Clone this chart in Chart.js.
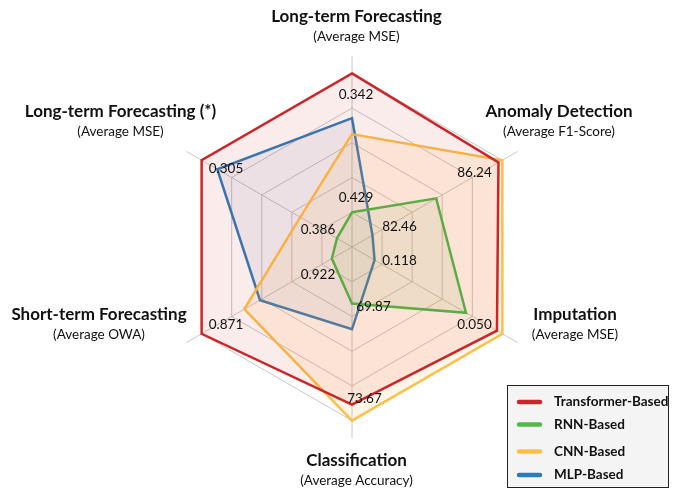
<!DOCTYPE html>
<html>
<head>
<meta charset="utf-8">
<script src="https://cdn.jsdelivr.net/npm/chart.js@4.4.1/dist/chart.umd.min.js"></script>
<style>
  html, body { margin: 0; padding: 0; background: #fff; }
  #wrap { width: 673px; height: 492px; position: relative; }
</style>
</head>
<body>
<div id="wrap"><canvas id="radarChart"></canvas></div>
<script>
// axis names and metrics, clockwise from the top
var categories = ["Long-term Forecasting", "Anomaly Detection", "Imputation", "Classification", "Short-term Forecasting", "Long-term Forecasting (*)"];
var metrics = ["(Average MSE)", "(Average F1-Score)", "(Average MSE)", "(Average Accuracy)", "(Average OWA)", "(Average MSE)"];

// normalised scores (0 = centre, 5 = outer ring)
var transformerValues = [5.0, 4.87, 4.82, 4.54, 5.0, 5.0];
var rnnValues = [1.0, 2.8, 3.79, 1.63, 0.67, 0.5];
var cnnValues = [3.25, 5.0, 5.0, 5.0, 3.58, 1.72];
var mlpValues = [3.71, 0.68, 0.75, 2.37, 3.06, 4.48];

// raw metric labels written on each axis
var innerTickLabels = ["0.429", "82.46", "0.118", "69.87", "0.922", "0.386"];
var outerTickLabels = ["0.342", "86.24", "0.050", "73.67", "0.871", "0.305"];

var seriesNames = ["Transformer-Based", "RNN-Based", "CNN-Based", "MLP-Based"];

var colors = ["#cc2529", "#52b848", "#fdbf47", "#2b7bba"];
var fills = ["rgba(214,39,40,0.09)", "rgba(120,170,60,0.10)", "rgba(253,180,60,0.12)", "rgba(60,90,170,0.08)"];

// text placement, offsets from the chart centre
var titleOffsets = [[4.5, -230], [207, -135], [223, 68], [4.5, 214], [-253, 68], [-231.5, -135]];
var innerOffsets = [[4, -49], [47.5, -20], [47.5, 14], [21.5, 60], [-34, 27.5], [-34, -17]];
var outerOffsets = [[4, -152.5], [122.5, -74.5], [122.5, 77.5], [12.5, 152], [-126, 77.5], [-126, -78]];

var FONT = "Lato, 'Open Sans', sans-serif";

var textPlugin = {
  id: "radarText",
  afterDatasetsDraw: function (chart) {
    var ctx = chart.ctx;
    var r = chart.scales.r;
    var cx = r.xCenter, cy = r.yCenter;
    ctx.save();
    ctx.textAlign = "center";
    ctx.textBaseline = "middle";
    ctx.fillStyle = "#111";
    for (var i = 0; i < categories.length; i++) {
      ctx.font = "bold 17px " + FONT;
      ctx.fillText(categories[i], cx + titleOffsets[i][0], cy + titleOffsets[i][1]);
      ctx.font = "13.5px " + FONT;
      ctx.fillText(metrics[i], cx + titleOffsets[i][0], cy + titleOffsets[i][1] + 20);
      ctx.font = "13.5px " + FONT;
      ctx.fillText(innerTickLabels[i], cx + innerOffsets[i][0], cy + innerOffsets[i][1]);
      ctx.fillText(outerTickLabels[i], cx + outerOffsets[i][0], cy + outerOffsets[i][1]);
    }
    ctx.restore();
  },
  afterDraw: function (chart) {
    var ctx = chart.ctx;
    var rows = [402, 424.5, 451.5, 475];
    ctx.save();
    ctx.fillStyle = "#f4f4f4";
    ctx.fillRect(507.5, 385.5, 161, 102);
    ctx.strokeStyle = "#222";
    ctx.lineWidth = 1;
    ctx.strokeRect(507.5, 385.5, 161, 102);
    ctx.lineCap = "round";
    ctx.textAlign = "left";
    ctx.textBaseline = "middle";
    ctx.font = "bold 13.5px " + FONT;
    for (var i = 0; i < seriesNames.length; i++) {
      ctx.strokeStyle = colors[i];
      ctx.lineWidth = 4.5;
      ctx.beginPath();
      ctx.moveTo(519, rows[i]);
      ctx.lineTo(540, rows[i]);
      ctx.stroke();
      ctx.fillStyle = "#111";
      ctx.fillText(seriesNames[i], 554, rows[i]);
    }
    ctx.restore();
  }
};

function makeSet(i, values) {
  return {
    label: seriesNames[i],
    data: values,
    borderColor: colors[i],
    backgroundColor: fills[i],
    borderWidth: 2.5,
    fill: true,
    pointRadius: 0,
    pointHoverRadius: 0,
    tension: 0
  };
}

var ctx = document.getElementById("radarChart").getContext("2d");
var radarChart = new Chart(ctx, {
  type: "radar",
  data: {
    labels: categories,
    datasets: [
      makeSet(0, transformerValues),
      makeSet(1, rnnValues),
      makeSet(2, cnnValues),
      makeSet(3, mlpValues)
    ]
  },
  options: {
    responsive: true,
    maintainAspectRatio: false,
    animation: false,
    layout: { padding: { top: 56, bottom: 54, left: 32, right: 0 } },
    plugins: {
      legend: { display: false },
      tooltip: { enabled: false }
    },
    scales: {
      r: {
        min: 0,
        max: 5.5,
        ticks: { display: false, stepSize: 1 },
        pointLabels: { display: false },
        grid: {
          color: function (c) {
            return c.tick && c.tick.value > 5 ? "rgba(0,0,0,0)" : "#c6c6c6";
          },
          lineWidth: 1
        },
        angleLines: { color: "#c6c6c6", lineWidth: 1 }
      }
    }
  },
  plugins: [textPlugin]
});
</script>
</body>
</html>
